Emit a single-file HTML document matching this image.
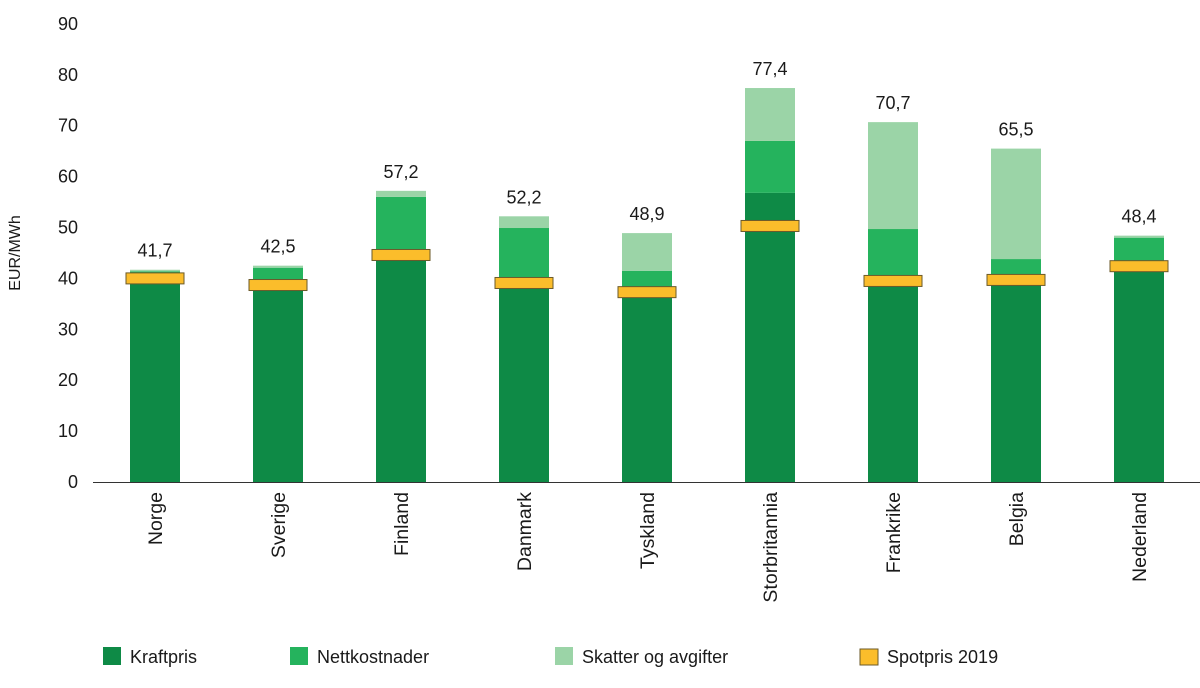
<!DOCTYPE html>
<html><head><meta charset="utf-8"><style>
body{margin:0;background:#fff;font-family:"Liberation Sans",sans-serif}
svg text{font-family:"Liberation Sans",sans-serif;fill:#1a1a1a}
</style></head><body>
<svg id="c" width="1200" height="683"></svg>
<script>
const categories=["Norge","Sverige","Finland","Danmark","Tyskland","Storbritannia","Frankrike","Belgia","Nederland"];
const kraftpris=[41.0,38.5,44.5,39.0,37.5,56.8,39.5,39.7,42.4];
const nettkostnader=[0.4,3.6,11.5,10.9,4.0,10.2,10.2,4.1,5.6];
const skatter=[0.3,0.4,1.2,2.3,7.4,10.4,21.0,21.7,0.4];
const spotpris=[40.0,38.7,44.6,39.1,37.3,50.3,39.5,39.7,42.4];
const totals=["41,7","42,5","57,2","52,2","48,9","77,4","70,7","65,5","48,4"];
const yTicks=[0,10,20,30,40,50,60,70,80,90];
const NS="http://www.w3.org/2000/svg";
const svg=document.getElementById('c');
const y0=482,pxPer=5.09;
const y=v=>y0-v*pxPer;
const x=i=>155+i*123;
const bw=50;
function mk(t,a,p){const e=document.createElementNS(NS,t);for(const k in a)e.setAttribute(k,a[k]);(p||svg).appendChild(e);return e;}
yTicks.forEach(t=>{const e=mk('text',{x:78,y:y(t)+6,'text-anchor':'end','font-size':18});e.textContent=t;

});
const yt=mk('text',{transform:'translate(20,253) rotate(-90)','text-anchor':'middle','font-size':16});yt.textContent='EUR/MWh';


const cols=['#0e8a46','#25b35d','#9bd4a7'];
categories.forEach((c,i)=>{
 const vals=[kraftpris[i],nettkostnader[i],skatter[i]];let acc=0;
 vals.forEach((v,j)=>{const r=mk('rect',{x:x(i)-bw/2,y:y(acc+v),width:bw,height:v*pxPer,fill:cols[j]});acc+=v;
 
 });
 const s=mk('rect',{x:x(i)-29,y:y(spotpris[i])-5.5,width:58,height:11,fill:'#fbbd2b',stroke:'#6b5a2a','stroke-width':1});
 
 
 const tl=mk('text',{x:x(i),y:y(acc)-13,'text-anchor':'middle','font-size':18});tl.textContent=totals[i];
 
 
 const xl=mk('text',{transform:`translate(${x(i)+7},492) rotate(-90)`,'text-anchor':'end','font-size':19.5});xl.textContent=c;
 
 
});
const ax=mk('line',{x1:93,x2:1200,y1:y0+0.5,y2:y0+0.5,stroke:'#333','stroke-width':1});


const leg=[["Kraftpris",'#0e8a46',103],["Nettkostnader",'#25b35d',290],["Skatter og avgifter",'#9bd4a7',555],["Spotpris 2019",'#fbbd2b',860]];
leg.forEach(l=>{const g=mk('g',{});
 
 
 if(l[0]==="Spotpris 2019")mk('rect',{x:l[2],y:649,width:18,height:16,fill:l[1],stroke:'#6b5a2a'},g);
 else mk('rect',{x:l[2],y:647,width:18,height:18,fill:l[1]},g);
 const t=mk('text',{x:l[2]+27,y:663,'font-size':18},g);t.textContent=l[0];});
</script>
</body></html>
